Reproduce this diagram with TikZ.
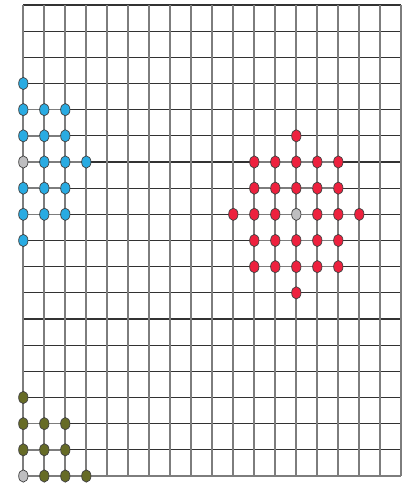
\documentclass[tikz,border=0pt]{standalone}
\usetikzlibrary{shapes.geometric}
\definecolor{GridGray}{RGB}{125,125,125}
\definecolor{GridDark}{RGB}{50,50,50}
\definecolor{DotBlue}{RGB}{41,171,226}
\definecolor{DotRed}{RGB}{237,33,62}
\definecolor{DotOlive}{RGB}{102,107,38}
\definecolor{DotGray}{RGB}{190,190,192}
\pgfdeclarelayer{bg}
\pgfsetlayers{bg,main}
\tikzset{
  hline/.style={draw=GridDark,line width=1pt},
  vline/.style={draw=GridGray,line width=1.4pt},
  link/.style={draw=GridGray,line width=1.4pt},
  dot/.style={ellipse,draw=black!75,line width=0.6pt,inner sep=0pt,minimum width=0.28cm,minimum height=0.37cm},
  bluedot/.style={dot,fill=DotBlue},
  reddot/.style={dot,fill=DotRed},
  olivedot/.style={dot,fill=DotOlive},
  centerdot/.style={dot,fill=DotGray}
}

\begin{document}
\begin{tikzpicture}[x=0.63cm,y=0.785cm]
\useasboundingbox (-0.699cm,-0.21cm) rectangle (11.511cm,14.28cm);
% lattice
\begin{pgfonlayer}{bg}
\foreach \r in {1,...,18} \draw[hline] (0,\r) -- (18,\r);
\foreach \c in {0,...,18} \draw[vline] (\c,0) -- (\c,18);
\draw[vline] (0,0) -- (18,0);
\end{pgfonlayer}

% red disk round (13,10)
\foreach \dx in {-3,...,3}{\foreach \dy in {-3,...,3}{
  \pgfmathtruncatemacro\rr{(\dx)*(\dx)+(\dy)*(\dy)}
  \ifnum\rr=0 \node[centerdot] (r\dx\dy) at (13+\dx,10+\dy) {};
  \else\ifnum\rr<10 \node[reddot] (r\dx\dy) at (13+\dx,10+\dy) {};\fi\fi}}

% blue half disk round (0,12)
\foreach \dx in {0,...,3}{\foreach \dy in {-3,...,3}{
  \pgfmathtruncatemacro\rr{(\dx)*(\dx)+(\dy)*(\dy)}
  \ifnum\rr=0 \node[centerdot] (b\dx\dy) at (\dx,12+\dy) {};
  \else\ifnum\rr<10 \node[bluedot] (b\dx\dy) at (\dx,12+\dy) {};\fi\fi}}

% olive quarter disk round (0,0)
\foreach \dx in {0,...,3}{\foreach \dy in {0,...,3}{
  \pgfmathtruncatemacro\rr{(\dx)*(\dx)+(\dy)*(\dy)}
  \ifnum\rr=0 \node[centerdot] (g\dx\dy) at (\dx,\dy) {};
  \else\ifnum\rr<10 \node[olivedot] (g\dx\dy) at (\dx,\dy) {};\fi\fi}}

% links between neighbours
\begin{pgfonlayer}{bg}
\foreach \dx in {-3,...,2}{\foreach \dy in {-3,...,3}{
  \pgfmathtruncatemacro\nx{\dx+1}
  \pgfmathtruncatemacro\ra{max((\dx)*(\dx),(\nx)*(\nx))+(\dy)*(\dy)}
  \ifnum\ra<10 \draw[link] (r\dx\dy) -- (r\nx\dy);\fi}}
\foreach \dx in {0,...,2}{\foreach \dy in {-3,...,3}{
  \pgfmathtruncatemacro\nx{\dx+1}
  \pgfmathtruncatemacro\ra{(\nx)*(\nx)+(\dy)*(\dy)}
  \ifnum\ra<10 \draw[link] (b\dx\dy) -- (b\nx\dy);\fi}}
\foreach \dx in {0,...,2}{\foreach \dy in {0,...,3}{
  \pgfmathtruncatemacro\nx{\dx+1}
  \pgfmathtruncatemacro\ra{(\nx)*(\nx)+(\dy)*(\dy)}
  \ifnum\ra<10 \draw[link] (g\dx\dy) -- (g\nx\dy);\fi}}
\end{pgfonlayer}
\end{tikzpicture}
\end{document}
